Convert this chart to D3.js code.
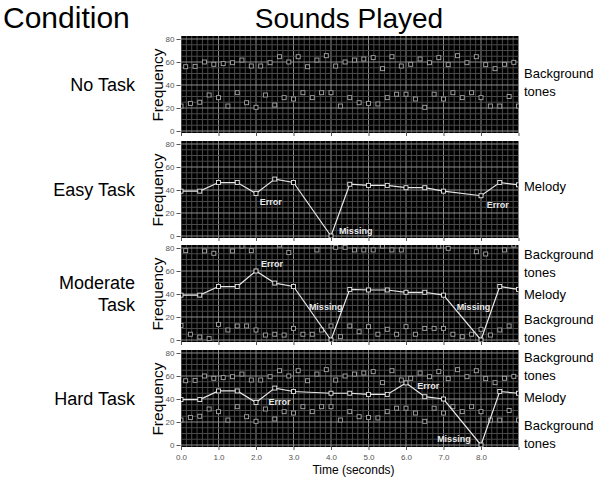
<!DOCTYPE html>
<html>
<head>
<meta charset="utf-8">
<script src="https://cdn.jsdelivr.net/npm/d3@7"></script>
<style>
  body { margin: 0; background: #fff; }
  svg text { font-family: 'Liberation Sans', Arial, sans-serif; }
</style>
</head>
<body>
<svg id="chart"></svg>
<script>
// time positions (seconds)
const melodyTimes = [0, 0.5, 1, 1.5, 2, 2.5, 3, 4, 4.5, 5, 5.5, 6, 6.5, 7, 8, 8.5, 9]
const upperTimes = [0.125, 0.375, 0.625, 0.875, 1.125, 1.375, 1.625, 1.875, 2.125, 2.375, 2.625, 2.875,
  3.125, 3.375, 3.625, 3.875, 4.125, 4.375, 4.625, 4.875, 5.125, 5.375, 5.625, 5.875,
  6.125, 6.375, 6.625, 6.875, 7.125, 7.375, 7.625, 7.875, 8.125, 8.375, 8.625, 8.875]
const lowerTimes = [0, 0.25, 0.5, 0.75, 1, 1.25, 1.5, 1.75, 2, 2.25, 2.5, 2.75, 3, 3.25, 3.5, 3.75,
  4, 4.25, 4.5, 4.75, 5, 5.25, 5.5, 5.75, 6, 6.25, 6.5, 6.75, 7, 7.25, 7.5, 7.75, 8, 8.25, 8.5, 8.75, 9]

// background tones (frequency)
const toneUpper = [55.9, 56.2, 60, 58, 58.6, 59.4, 61.7, 56.5, 56.5, 59.4, 64.6, 60,
  64.6, 55.9, 61.7, 65.5, 56.5, 60, 61.7, 62.6, 63.8, 54.2, 64.6, 56.5,
  58, 62.6, 59.4, 63.8, 57.7, 65.5, 59.4, 64.6, 57.7, 54.2, 58, 59.7]
const toneLower = [21.7, 24, 25, 31.3, 29, 21.7, 33.3, 24.6, 20.6, 31.3, 22.6, 29, 27.8, 33.3, 29, 33.3,
  33.3, 21.7, 29, 24.6, 24, 23.5, 29, 32, 32, 27.8, 20.6, 32, 27.8, 33.3, 29, 33.3, 29, 21.7, 21.7, 30, 21.7]
const moderateUpper = [77.7, null, 77.4, 75.4, null, 77.4, 81.7, 77.7, null, null, 82.6, 76,
  null, null, 78.3, null, 80.6, 80.6, 78.3, 78.3, 78.3, 81.7, 78.3, 78.3,
  null, null, null, 81.7, 79.7, null, null, 76.8, 74.8, null, 78.3, 82.6]
const moderateLower = [12.7, 5, 2.6, 1.2, 13.6, 8.7, 12.2, 12.2, 8.7, 4.3, 5, 4.3, 10.1, 5, 5, 8.7,
  12.2, 2.9, 12.2, 7.2, 11.6, 5, 9.3, 5, 11.6, 5, 10.1, 10.1, 10.1, 5, 2.9, 5, 9.3, 4.3, 8.7, 12.2, null]

// melodies
const easyMelody = [39, 39, 46.5, 46.5, 37, 49.5, 46.5, 0, 45, 44, 44, 42, 42, 39, 35, 46.5, 44.5]
const moderateMelody = [39, 39, 46.5, 46.5, 60, 49.5, 46.5, 0, 44, 43.5, 43.5, 41.5, 41.5, 39, 0, 46.5, 44]
const hardMelody = [39.5, 39.5, 47, 47, 37, 49.5, 46.5, 45, 45, 44, 44, 54, 42, 40, 0, 46.5, 45]

const conditions = [['No Task'], ['Easy Task'], ['Moderate', 'Task'], ['Hard Task']]
const yTicks = [0, 20, 40, 60, 80]
const xTicks = [0, 1, 2, 3, 4, 5, 6, 7, 8, 9]
const xTickLabels = ['0.0', '1.0', '2.0', '3.0', '4.0', '5.0', '6.0', '7.0', '8.0', '']

const panels = [
  { tones: [[upperTimes, toneUpper], [lowerTimes, toneLower]], melody: null,
    right: [{ lines: ['Background', 'tones'], v: 42 }],
    notes: [] },
  { tones: [], melody: easyMelody,
    right: [{ lines: ['Melody'], v: 43.5 }],
    notes: [{ text: 'Error', t: 2.1, v: 27 }, { text: 'Missing', t: 4.21, v: 1.7 }, { text: 'Error', t: 8.15, v: 24.3 }] },
  { tones: [[upperTimes, moderateUpper], [lowerTimes, moderateLower]], melody: moderateMelody,
    right: [{ lines: ['Background', 'tones'], v: 67 }, { lines: ['Melody'], v: 40 }, { lines: ['Background', 'tones'], v: 10.4 }],
    notes: [{ text: 'Error', t: 2.13, v: 63.5 }, { text: 'Missing', t: 3.41, v: 26 }, { text: 'Missing', t: 7.35, v: 26 }] },
  { tones: [[upperTimes, toneUpper], [lowerTimes, toneLower]], melody: hardMelody,
    right: [{ lines: ['Background', 'tones'], v: 68 }, { lines: ['Melody'], v: 41 }, { lines: ['Background', 'tones'], v: 9.6 }],
    notes: [{ text: 'Error', t: 2.33, v: 35.2 }, { text: 'Error', t: 6.3, v: 48.3 }, { text: 'Missing', t: 6.83, v: 2.6 }] }
]

const width = 600
const height = 482
const zeroY = [131, 236, 340, 445]
const plotH = 92

const svg = d3.select('#chart')
  .attr('width', width)
  .attr('height', height)

const x = d3.scaleLinear().domain([0, 9]).range([181, 518.5])

svg.append('text')
  .attr('x', 3)
  .attr('y', 28)
  .style('font-size', '30px')
  .text('Condition')

svg.append('text')
  .attr('x', 349)
  .attr('y', 28)
  .attr('text-anchor', 'middle')
  .style('font-size', '28px')
  .text('Sounds Played')

const minorX = d3.range(0, 9 * 7 + 1).map((i) => i / 7)
const minorY = d3.range(0, 81, 5)

panels.forEach((panel, i) => {
  const y = d3.scaleLinear().domain([0, 80]).range([zeroY[i], zeroY[i] - plotH])
  const top = zeroY[i] - 95
  const bottom = zeroY[i] + 2
  const g = svg.append('g')

  g.append('clipPath')
    .attr('id', `clip${i}`)
    .append('rect')
    .attr('x', x(0))
    .attr('y', top)
    .attr('width', x(9) - x(0))
    .attr('height', bottom - top)

  g.append('rect')
    .attr('x', x(0))
    .attr('y', top)
    .attr('width', x(9) - x(0))
    .attr('height', bottom - top)
    .attr('fill', '#000')

  const grid = g.append('g').attr('clip-path', `url(#clip${i})`)

  grid.selectAll('.vminor')
    .data(minorX)
    .join('line')
    .attr('x1', (d) => x(d))
    .attr('x2', (d) => x(d))
    .attr('y1', top)
    .attr('y2', bottom)
    .attr('stroke', (d) => Math.abs(d - Math.round(d)) < 1e-6 ? '#8c8c8c' : '#4a4a4a')
    .attr('stroke-width', 1)

  grid.selectAll('.hminor')
    .data(minorY)
    .join('line')
    .attr('x1', x(0))
    .attr('x2', x(9))
    .attr('y1', (d) => y(d))
    .attr('y2', (d) => y(d))
    .attr('stroke', (d) => d % 20 === 0 ? '#8c8c8c' : '#4a4a4a')
    .attr('stroke-width', 1)

  panel.tones.forEach(([times, values]) => {
    const pts = times.map((t, k) => [t, values[k]]).filter((p) => p[1] != null)
    grid.selectAll(null)
      .data(pts)
      .join('rect')
      .attr('x', (d) => x(d[0]) - 2)
      .attr('y', (d) => y(d[1]) - 2)
      .attr('width', 4)
      .attr('height', 4)
      .attr('fill', '#000')
      .attr('stroke', '#a8a8a8')
      .attr('stroke-width', 0.9)
  })

  if (panel.melody) {
    const pts = melodyTimes.map((t, k) => [t, panel.melody[k]])
    grid.append('path')
      .datum(pts)
      .attr('fill', 'none')
      .attr('stroke', '#e6e6e6')
      .attr('stroke-width', 1.2)
      .attr('d', d3.line().x((d) => x(d[0])).y((d) => y(d[1])))

    grid.selectAll(null)
      .data(pts)
      .join('rect')
      .attr('x', (d) => x(d[0]) - 2)
      .attr('y', (d) => y(d[1]) - 2)
      .attr('width', 4)
      .attr('height', 4)
      .attr('fill', '#000')
      .attr('stroke', '#e6e6e6')
      .attr('stroke-width', 0.9)
  }

  panel.notes.forEach((note) => {
    g.append('text')
      .attr('x', x(note.t))
      .attr('y', y(note.v))
      .attr('fill', '#e8e8e8')
      .style('font-size', '9px')
      .style('font-weight', 'bold')
      .text(note.text)
  })

  // y axis
  const yAxis = g.append('g')
    .attr('transform', `translate(${x(0) - 0.5}, 0)`)
    .call(d3.axisLeft(y).tickValues(yTicks).tickSize(4).tickPadding(2))
  yAxis.select('.domain').remove()
  yAxis.selectAll('line').attr('stroke', '#555')
  yAxis.selectAll('text')
    .attr('fill', '#555')
    .style('font-size', '8px')
    .style('font-family', "'Liberation Sans', Arial, sans-serif")

  // x axis ticks under every panel
  const xAxis = g.append('g')
    .attr('transform', `translate(0, ${bottom})`)
    .call(d3.axisBottom(x).tickValues(xTicks).tickSize(3).tickPadding(4)
      .tickFormat((d, k) => i === 3 ? xTickLabels[k] : ''))
  xAxis.select('.domain').remove()
  xAxis.selectAll('line').attr('stroke', '#555')
  xAxis.selectAll('text')
    .attr('fill', '#555')
    .style('font-size', '8px')
    .style('font-family', "'Liberation Sans', Arial, sans-serif")

  g.append('text')
    .attr('transform', `translate(163, ${zeroY[i] - 46}) rotate(-90)`)
    .attr('text-anchor', 'middle')
    .style('font-size', '15.5px')
    .text('Frequency')

  // condition label
  const cond = conditions[i]
  const condY = zeroY[i] - 46 - (cond.length - 1) * 11
  cond.forEach((line, k) => {
    g.append('text')
      .attr('x', 135)
      .attr('y', condY + k * 22)
      .attr('text-anchor', 'end')
      .attr('dy', '0.35em')
      .style('font-size', '18px')
      .text(line)
  })

  // right-side labels
  panel.right.forEach((lab) => {
    const cy = y(lab.v) - (lab.lines.length - 1) * 9
    lab.lines.forEach((line, k) => {
      g.append('text')
        .attr('x', 524)
        .attr('y', cy + k * 18)
        .attr('dy', '0.35em')
        .style('font-size', '13px')
        .text(line)
    })
  })
})

svg.append('text')
  .attr('x', x(4.6))
  .attr('y', 474)
  .attr('text-anchor', 'middle')
  .style('font-size', '12px')
  .text('Time (seconds)')
</script>
</body>
</html>
